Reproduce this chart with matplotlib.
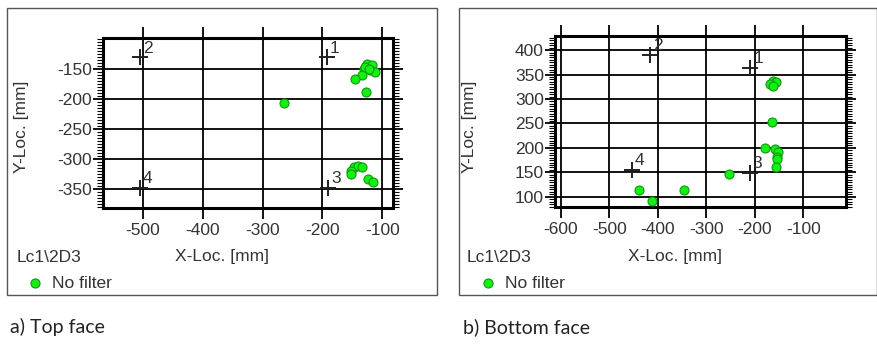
import matplotlib
matplotlib.use("Agg")
import matplotlib.pyplot as plt
from matplotlib.lines import Line2D
from matplotlib.patches import Rectangle
from matplotlib.ticker import MultipleLocator

# ---------------- data ----------------
top_x = [-125, -117, -131, -120, -112, -134, -145, -128, -122, -127, -264,
         -148, -140, -134, -152, -153, -123, -116]
top_y = [-141, -143, -149, -152, -154, -160, -167, -146, -150, -188, -207,
         -313, -312, -313, -321, -326, -334, -339]
top_sensor_x = [-192, -505, -190, -505]
top_sensor_y = [-130, -130, -348, -348]
top_xticks = [-500, -400, -300, -200, -100]
top_yticks = [-150, -200, -250, -300, -350]

bot_x = [-162, -156, -169, -163, -164, -179, -158, -153, -155, -154, -157,
         -253, -438, -411, -345]
bot_y = [336, 334, 330, 327, 253, 200, 197, 192, 182, 177, 160,
         147, 113, 92, 113]
bot_sensor_x = [-209, -416, -210, -453]
bot_sensor_y = [364, 391, 149, 155]
bot_xticks = [-600, -500, -400, -300, -200, -100]
bot_yticks = [100, 150, 200, 250, 300, 350, 400]

sensor_labels = ["1", "2", "3", "4"]
captions = ["a) Top face", "b) Bottom face"]

# ---------------- figure ----------------
W, H = 878, 345
plt.rcParams['font.family'] = ['Liberation Sans', 'DejaVu Sans']
plt.rcParams['axes.unicode_minus'] = False
fig = plt.figure(figsize=(W / 100, H / 100), dpi=100)

TXT = '#333333'
GREEN = '#14f014'
GEDGE = '#0a9a0a'
FS = 12.5


def fx(px):
    return px / W


def fy(py):
    return 1 - py / H


def make_panel(rect_px, xlim, ylim, xs, ys, sx, sy, xticks, yticks,
               box_px, ylab_px, xlab_px, lc_px, leg_px, cap_px, caption):
    x0, y0, x1, y1 = rect_px
    ax = fig.add_axes([fx(x0), fy(y1), fx(x1 - x0), (y1 - y0) / H])
    ax.set_xlim(*xlim)
    ax.set_ylim(*ylim)
    ax.set_xticks(xticks)
    ax.set_yticks(yticks)
    ax.yaxis.set_minor_locator(MultipleLocator(5))
    ax.grid(True, which='major', color='black', lw=1.3)
    ax.set_axisbelow(True)
    for s in ax.spines.values():
        s.set_linewidth(2.2)
        s.set_color('black')
    ax.tick_params(axis='x', which='major', direction='out', length=8,
                   width=1.3, top=True, bottom=True, labelsize=FS,
                   labelcolor=TXT, pad=3)
    ax.tick_params(axis='y', which='major', direction='out', length=7,
                   width=1.3, left=True, right=True, labelsize=FS,
                   labelcolor=TXT, pad=1)
    ax.tick_params(axis='y', which='minor', direction='out', length=4,
                   width=0.8, left=True, right=True)
    ax.tick_params(axis='x', which='minor', bottom=False, top=False)

    # sensors
    ax.plot(sx, sy, linestyle='none', marker='+', markersize=12,
            markeredgewidth=1.4, color='#202020', zorder=4)
    for lx, ly, lab in zip(sx, sy, sensor_labels):
        ax.annotate(lab, (lx, ly), xytext=(2, 1), textcoords='offset points',
                    ha='left', va='bottom', fontsize=FS, color=TXT,
                    zorder=5)
    # events
    ax.scatter(xs, ys, s=42, c=GREEN, edgecolors=GEDGE, linewidths=0.8,
               zorder=6)

    # outer box
    bx0, by0, bx1, by1 = box_px
    fig.add_artist(Rectangle((fx(bx0), fy(by1)), fx(bx1 - bx0),
                             (by1 - by0) / H, transform=fig.transFigure,
                             fill=False, edgecolor='#555555', lw=1.0))
    fig.text(fx(ylab_px[0]), fy(ylab_px[1]), 'Y-Loc. [mm]', rotation=90,
             ha='center', va='center', fontsize=FS, color=TXT)
    fig.text(fx(xlab_px[0]), fy(xlab_px[1]), 'X-Loc. [mm]',
             ha='center', va='center', fontsize=FS, color=TXT)
    fig.text(fx(lc_px[0]), fy(lc_px[1]), 'Lc1\\2D3',
             ha='left', va='center', fontsize=FS, color=TXT)
    fig.add_artist(Line2D([fx(leg_px[0])], [fy(leg_px[1])],
                          transform=fig.transFigure, marker='o',
                          markersize=6.5, markerfacecolor=GREEN,
                          markeredgecolor=GEDGE, markeredgewidth=0.8,
                          linestyle='none'))
    fig.text(fx(leg_px[0] + 17), fy(leg_px[1]), 'No filter',
             ha='left', va='center', fontsize=FS, color=TXT)
    fig.text(fx(cap_px[0]), fy(cap_px[1]), caption, ha='left',
             va='center', fontsize=14, color='#222222',
             family=['Lato', 'DejaVu Sans'])
    return ax


make_panel((103, 38, 393, 208), (-567, -82), (-382, -98),
           top_x, top_y, top_sensor_x, top_sensor_y, top_xticks, top_yticks,
           (7, 8, 437, 295), (22, 127), (222, 257), (17, 257), (35, 283),
           (10, 327), captions[0])
make_panel((555, 36, 846, 207), (-612, -12), (79, 429),
           bot_x, bot_y, bot_sensor_x, bot_sensor_y, bot_xticks, bot_yticks,
           (459, 8, 877, 295), (470, 127), (675, 257), (467, 257), (488, 283),
           (463, 327), captions[1])

fig.savefig('out.png', dpi=100)
